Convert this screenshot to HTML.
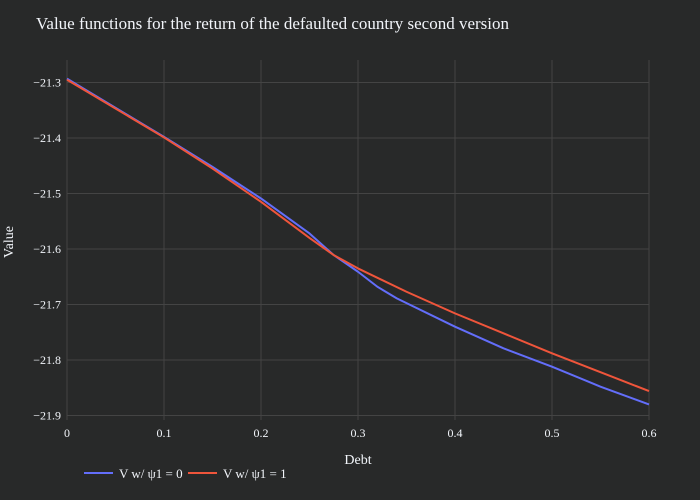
<!DOCTYPE html>
<html><head><meta charset="utf-8"><style>
body{margin:0;background:#282929;}
svg{display:block;font-family:"Liberation Serif",serif;}
</style></head><body>
<svg id="chart" width="700" height="500">
<rect width="700" height="500" fill="#282929"/>
<text x="36" y="29" fill="#f2f5fa" font-size="17">Value functions for the return of the defaulted country second version</text>
<g id="grid"></g><g id="series"></g>
<text x="358" y="464" fill="#f2f5fa" font-size="14" text-anchor="middle">Debt</text>
<text transform="translate(13,242) rotate(-90)" fill="#f2f5fa" font-size="14" text-anchor="middle">Value</text>
<g>
<line x1="84" y1="473" x2="113" y2="473" stroke="#636efa" stroke-width="2"/>
<text x="119" y="478" fill="#f2f5fa" font-size="13">V w/ ψ1 = 0</text>
<line x1="188" y1="473" x2="217" y2="473" stroke="#ef553b" stroke-width="2"/>
<text x="223" y="478" fill="#f2f5fa" font-size="13">V w/ ψ1 = 1</text>
</g>
</svg>
<script>
const xTicks=[0,0.1,0.2,0.3,0.4,0.5,0.6];
const yTicks=[-21.3,-21.4,-21.5,-21.6,-21.7,-21.8,-21.9];
const xBlue=[0,0.1,0.15,0.2,0.25,0.275,0.3,0.32,0.34,0.4,0.45,0.5,0.55,0.6];
const yBlue=[-21.293,-21.398,-21.452,-21.509,-21.572,-21.611,-21.641,-21.668,-21.689,-21.740,-21.779,-21.812,-21.848,-21.880];
const xRed=[0,0.1,0.15,0.2,0.25,0.275,0.3,0.35,0.4,0.45,0.5,0.55,0.6];
const yRed=[-21.295,-21.399,-21.455,-21.515,-21.58,-21.611,-21.635,-21.677,-21.716,-21.752,-21.788,-21.822,-21.856];
const NS='http://www.w3.org/2000/svg';
const X=v=>67+(v-0)/0.6*582;
const Y=v=>82.5+(-21.3-v)/0.6*333;
const grid=document.getElementById('grid'),ser=document.getElementById('series');
function mk(t,a,p){const e=document.createElementNS(NS,t);for(const k in a)e.setAttribute(k,a[k]);p.appendChild(e);return e;}
xTicks.forEach(v=>{
  const l=mk('line',{x1:X(v),x2:X(v),y1:60,y2:420,stroke:'#444','stroke-width':1},grid);
  
  
  const t=mk('text',{x:X(v),y:437,fill:'#f2f5fa','font-size':12,'text-anchor':'middle'},grid);
  t.textContent=String(v);
  
  
});
yTicks.forEach(v=>{
  const l=mk('line',{x1:67,x2:649,y1:Y(v),y2:Y(v),stroke:'#444'},grid);
  
  
  const t=mk('text',{x:61,y:Y(v)+4,fill:'#f2f5fa','font-size':12,'text-anchor':'end'},grid);
  t.textContent='\u2212'+Math.abs(v).toFixed(1);
  
  
});
function line(xs,ys,c,name){
  const p=mk('polyline',{points:xs.map((x,i)=>X(x)+','+Y(ys[i])).join(' '),fill:'none',stroke:c,'stroke-width':2,'stroke-linejoin':'round'},ser);
  
  
}
line(xBlue,yBlue,'#636efa','line-psi0');
line(xRed,yRed,'#ef553b','line-psi1');
</script>
</body></html>
